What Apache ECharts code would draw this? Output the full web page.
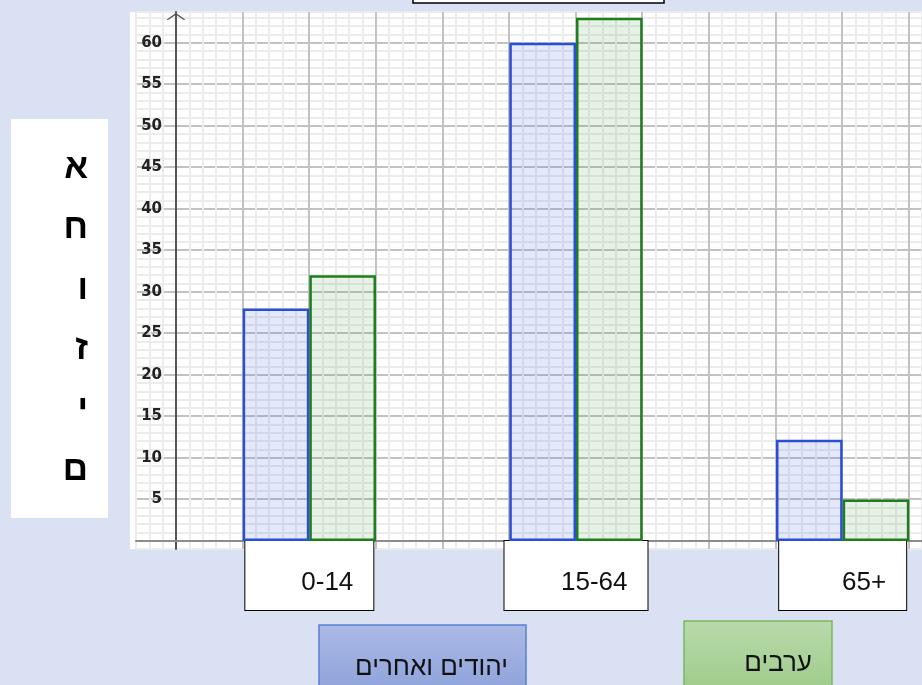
<!DOCTYPE html>
<html>
<head>
<meta charset="utf-8">
<script src="https://cdn.jsdelivr.net/npm/echarts@6/dist/echarts.min.js"></script>
<style>
html, body { margin: 0; padding: 0; background: #d9e1f2; }
#main { width: 922px; height: 685px; }
</style>
</head>
<body>
<div id="main"></div>
<script>
// 数据
var categories = ['0-14', '15-64', '65+'];
var jewsData = [28, 60, 12.2];
var arabsData = [32, 63, 5];
var yLabelStep = 5;
var axisTitle = ['א', 'ח', 'ו', 'ז', 'י', 'ם'];
var seriesNames = ['יהודים ואחרים', 'ערבים'];

var myChart = echarts.init(document.getElementById('main'));
var minor = '#ececec', major = '#c2c2c2';
var heb = '"Liberation Sans", "DejaVu Sans", sans-serif';
var boxStyle = { fontSize: 26, lineHeight: 30, fontFamily: heb, color: '#111', align: 'right' };

var option = {
    backgroundColor: '#d9e1f2',
    animation: false,
    graphic: [
        // 白色方格纸背景
        { type: 'rect', z: -10, shape: { x: 130, y: 12, width: 792, height: 537 }, style: { fill: '#fff' } },
        // 顶部标题框 (被裁掉)
        { type: 'rect', shape: { x: 413, y: -30, width: 251, height: 33 }, style: { fill: '#fff', stroke: '#000', lineWidth: 1.5 } },
        // 左侧纵轴标题
        { type: 'rect', shape: { x: 11, y: 119, width: 97, height: 399 }, style: { fill: '#fff' } },
        {
            type: 'text', style: {
                text: axisTitle.join('\n'), x: 88, y: 138, align: 'right', verticalAlign: 'top',
                fontSize: 35, fontWeight: 'bold', lineHeight: 60.4, fontFamily: heb, fill: '#000'
            }
        },
        // 图例框
        {
            type: 'rect', shape: { x: 319, y: 625, width: 207, height: 70 },
            style: {
                fill: new echarts.graphic.LinearGradient(0, 0, 0, 1, [{ offset: 0, color: '#abb9e5' }, { offset: 1, color: '#8da2da' }]),
                stroke: '#5a7fd6', lineWidth: 1.5
            }
        },
        { type: 'text', style: { text: seriesNames[0], x: 508, y: 668, align: 'right', verticalAlign: 'middle', fontSize: 26, fontFamily: heb, fill: '#111' } },
        {
            type: 'rect', shape: { x: 684, y: 621, width: 148, height: 74 },
            style: {
                fill: new echarts.graphic.LinearGradient(0, 0, 0, 1, [{ offset: 0, color: '#b9daab' }, { offset: 1, color: '#9dca89' }]),
                stroke: '#7ab660', lineWidth: 1.5
            }
        },
        { type: 'text', style: { text: seriesNames[1], x: 812, y: 664, align: 'right', verticalAlign: 'middle', fontSize: 26, fontFamily: heb, fill: '#111' } }
    ],
    grid: [
        { left: 136, width: 786, top: 12, height: 537, outerBoundsMode: 'none' },   // 方格
        { left: 176, width: 800, top: 12, height: 529, outerBoundsMode: 'none' }    // 柱子
    ],
    xAxis: [
        {
            type: 'value', gridIndex: 0, min: -3, max: 56, interval: 1,
            axisLine: { onZero: true, lineStyle: { color: '#8c8c8c', width: 2 } },
            axisTick: { show: false },
            axisLabel: { show: false },
            splitLine: { lineStyle: { color: [minor, minor, minor, major, minor], width: 2 } }
        },
        {
            type: 'category', gridIndex: 1, data: categories,
            axisLine: { show: false },
            axisTick: { show: false },
            axisLabel: {
                interval: 0, margin: 0,
                formatter: function (v, i) { return '{' + ['a', 'b', 'c'][i] + '|' + v + '}'; },
                backgroundColor: '#fff', borderColor: '#000', borderWidth: 1,
                padding: [27, 20, 12, 10],
                rich: {
                    a: Object.assign({ width: 98 }, boxStyle),
                    b: Object.assign({ width: 113 }, boxStyle),
                    c: Object.assign({ width: 97 }, boxStyle)
                }
            }
        }
    ],
    yAxis: [
        {
            type: 'value', gridIndex: 0, min: -1, max: 63.7, interval: 1,
            axisLine: {
                onZero: true,
                lineStyle: { color: '#555', width: 2 },
                symbol: ['none', 'path://M0,7L10,0L20,7L18.5,7.5L10,1.8L1.5,7.5Z'],
                symbolSize: [20, 7],
                symbolOffset: [0, -4.5]
            },
            axisTick: { show: false },
            axisLabel: {
                margin: -26, fontFamily: 'DejaVu Sans', fontWeight: 'bold', fontSize: 15, color: '#222',
                formatter: function (v) { return (v > 0 && v % yLabelStep === 0) ? v : ''; }
            },
            splitLine: { lineStyle: { color: [minor, major, minor, minor, minor], width: 2 } }
        },
        { type: 'value', gridIndex: 1, min: 0, max: 63.7, show: false, splitLine: { show: false } }
    ],
    series: [
        {
            name: seriesNames[0], type: 'bar', xAxisIndex: 1, yAxisIndex: 1,
            barCategoryGap: '50%', barGap: '0%',
            data: jewsData,
            itemStyle: { color: 'rgba(65,105,225,0.15)', borderColor: '#2a4fd6', borderWidth: 2.5 }
        },
        {
            name: seriesNames[1], type: 'bar', xAxisIndex: 1, yAxisIndex: 1,
            barCategoryGap: '50%', barGap: '0%',
            data: arabsData,
            itemStyle: { color: 'rgba(40,150,40,0.12)', borderColor: '#1f7d1f', borderWidth: 2.5 }
        }
    ]
};
myChart.setOption(option);
</script>
</body>
</html>
